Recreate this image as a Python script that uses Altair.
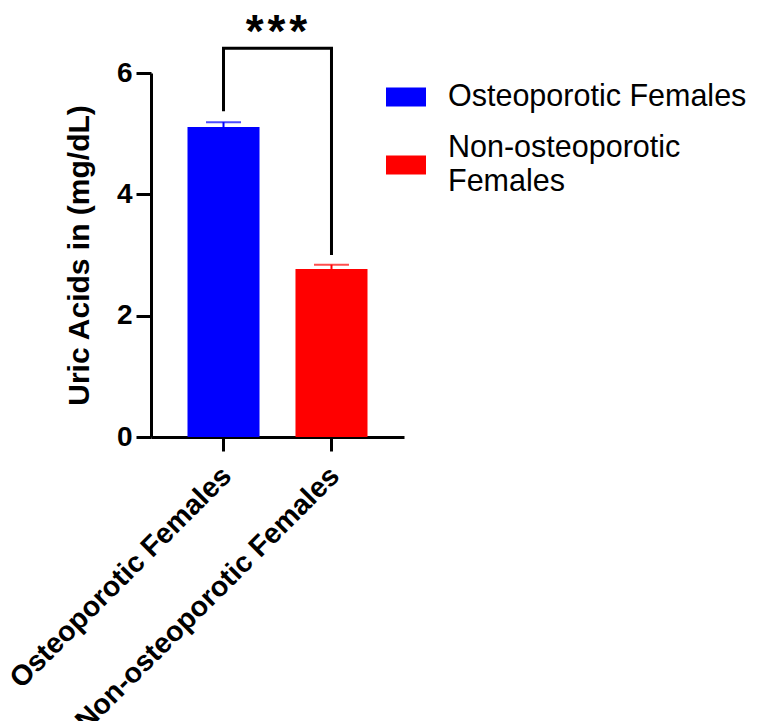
import altair as alt
import pandas as pd

# ---- data ----
groups = ["Osteoporotic Females", "Non-osteoporotic Females"]
means = [5.11, 2.77]
sems = [0.08, 0.07]
colors = ["#0000FF", "#FF0000"]
# legend swatches: the second one sits between the two lines of its wrapped label
swatch_paths = ["M-1,-0.475H1V0.475H-1Z", "M-1,0.375H1V1.325H-1Z"]

bracket_group = ["Osteoporotic Females", "Osteoporotic Females",
                 "Non-osteoporotic Females", "Non-osteoporotic Females"]
bracket_y = [5.37, 6.41, 6.41, 3.0]
bracket_order = [0, 1, 2, 3]

star_group = ["Osteoporotic Females"]
star_text = ["*\u200a*\u200a*"]
star_y = [6.43]

y_ticks = [0, 2, 4, 6]

FONT = "Liberation Sans"

df = pd.DataFrame({
    "group": groups,
    "mean": means,
    "upper": [m + s for m, s in zip(means, sems)],
})
df_bracket = pd.DataFrame({"group": bracket_group, "y": bracket_y, "o": bracket_order})
df_star = pd.DataFrame({"group": star_group, "y": star_y, "t": star_text})

x_scale = alt.Scale(domain=groups, paddingInner=0.333, paddingOuter=0.338)
x_axis = alt.Axis(
    title=None, labelAngle=-45, labelAlign="right", labelBaseline="middle",
    labelFont=FONT, labelFontSize=28.5, labelFontWeight="bold", labelColor="black",
    labelPadding=20, labelOffset=3, labelLimit=600,
    domainColor="black", domainWidth=3, tickColor="black", tickWidth=3, tickSize=14,
    grid=False,
)
x = alt.X("group:N", sort=groups, scale=x_scale, axis=x_axis)
x_plain = alt.X("group:N", sort=groups, scale=x_scale)

y_scale = alt.Scale(domain=[0, 6], nice=False, zero=True)
y_axis = alt.Axis(
    title="Uric Acids in (mg/dL)", values=y_ticks, format="d",
    titleFont=FONT, titleFontSize=30, titleFontWeight="bold", titleColor="black",
    titlePadding=22,
    labelFont=FONT, labelFontSize=28, labelFontWeight="bold", labelColor="black",
    labelPadding=4,
    domainColor="black", domainWidth=3, tickColor="black", tickWidth=3, tickSize=15,
    grid=False,
)

legend = alt.Legend(
    title=None, orient="none", legendX=235, legendY=4, direction="vertical",
    symbolSize=1600, symbolStrokeWidth=0, symbolOpacity=1,
    labelFont=FONT, labelFontSize=30.5, labelColor="black", labelLimit=600,
    labelOffset=22, rowPadding=15,
    labelExpr="datum.label == 'Non-osteoporotic Females' ? ['Non-osteoporotic', 'Females'] : datum.label",
)
color = alt.Color("group:N", sort=groups,
                  scale=alt.Scale(domain=groups, range=colors), legend=legend)
shape = alt.Shape("group:N", sort=groups,
                  scale=alt.Scale(domain=groups, range=swatch_paths), legend=legend)

legend_carrier = alt.Chart(df).mark_point(filled=True, opacity=0).encode(
    x=x_plain, y="mean:Q", color=color, shape=shape,
)

bars = alt.Chart(df).mark_bar().encode(
    x=x,
    y=alt.Y("mean:Q", scale=y_scale, axis=y_axis),
    color=color,
)

err = alt.Chart(df).mark_rule(strokeWidth=2).encode(
    x=x_plain, y="mean:Q", y2="upper:Q", color=color,
)

caps = alt.Chart(df).mark_tick(size=35, thickness=2, orient="horizontal").encode(
    x=x_plain, y="upper:Q", color=color,
)

bracket = alt.Chart(df_bracket).mark_line(color="black", strokeWidth=3, strokeJoin="miter").encode(
    x=x_plain, y="y:Q", order="o:Q",
)

stars = alt.Chart(df_star).mark_text(
    font=FONT, fontSize=46, fontWeight="bold", color="black",
    align="center", baseline="alphabetic", dx=17,
).encode(
    x=alt.X("group:N", sort=groups, scale=x_scale, bandPosition=1),
    y="y:Q", text="t:N",
)

chart = alt.layer(legend_carrier, bars, err, caps, bracket, stars).properties(
    width=253, height=364,
    autosize="none",
    padding={"left": 143, "top": 65, "right": 346, "bottom": 284},
    background="white",
).configure(
    style={"guide-label": {"lineHeight": 34}},
    view=alt.ViewConfig(stroke=None),
)

chart.save("out.html", embed_options={"renderer": "svg", "actions": False})
